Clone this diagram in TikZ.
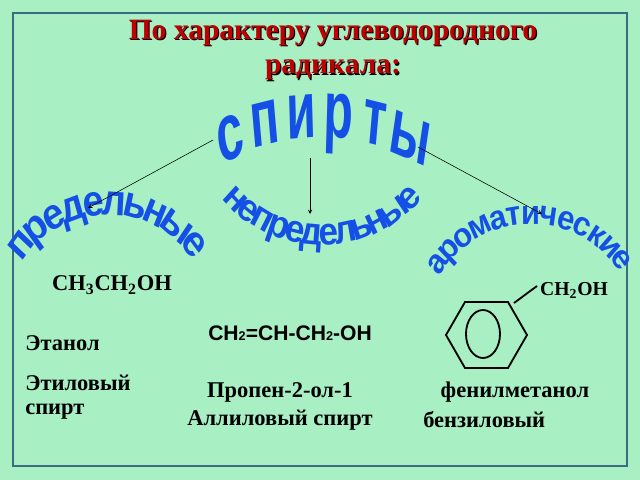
\documentclass[tikz,border=0pt]{standalone}
\usepackage{fontspec}
\setmainfont{Liberation Serif}
\newfontfamily\arialf{Liberation Sans}
\definecolor{bg}{HTML}{A8F0C4}
\definecolor{frm}{HTML}{3A6E7E}
\definecolor{ttl}{HTML}{C00000}
\definecolor{wa}{HTML}{1450E6}
\begin{document}
\begin{tikzpicture}[x=0.025cm,y=-0.025cm,
  txt/.style={font=\bfseries\fontsize{16}{18}\selectfont,inner sep=0pt},
  wal/.style={text=wa,inner sep=0pt,anchor=base},
  arr/.style={-stealth,thin}]
\fill[bg] (0,0) rectangle (640,480);
\useasboundingbox (0,0) rectangle (640,480);
\draw[frm,line width=1.2pt] (13,13) rectangle (627,466);
% title
\foreach \dx/\c in {1.2/black,0/ttl}{
\node[font=\bfseries\fontsize{21}{24}\selectfont,text=\c,inner sep=0pt] (t1\c) at (333+\dx,33+\dx) {По характеру углеводородного};
\node[font=\bfseries\fontsize{21}{24}\selectfont,text=\c,inner sep=0pt] (t2\c) at (333+\dx,70+\dx) {радикала:};}
% спирты
\foreach \l/\a [count=\i] in {с/118,п/106.8,и/95.6,р/84.4,т/73.2,ы/62}{
  \node[wal,font=\arialf\bfseries\fontsize{34}{34}\selectfont,yscale=1.7,rotate={(\a-90)*0.5}] (s\i) at ({320+185*cos(\a)},{322-185*sin(\a)}) {\l};}
% предельные
\gdef\acc{0}
\foreach \l/\w [count=\i] in {п/.61,р/.61,е/.56,д/.6,е/.56,л/.6,ь/.55,н/.61,ы/.8,е/.56}{
  \pgfmathsetmacro\a{146-(\acc+\w/2)*18.3}
  \node[wal,font=\arialf\bfseries\fontsize{27}{27}\selectfont,yscale=1.15,rotate=\a-90] (p\i) at ({108+103*cos(\a)},{318-103*sin(\a)}) {\l};
  \pgfmathsetmacro\tmp{\acc+\w}\xdef\acc{\tmp}}
% непредельные
\gdef\acc{0}
\foreach \l/\w [count=\i] in {н/.61,е/.56,п/.61,р/.61,е/.56,д/.6,е/.56,л/.6,ь/.55,н/.61,ы/.8,е/.56}{
  \pgfmathsetmacro\a{221+(\acc+\w/2)*13.6}
  \node[wal,font=\arialf\bfseries\fontsize{25}{25}\selectfont,yscale=1.1,rotate=\a+90] (n\i) at ({322+132*cos(\a)},{113-132*sin(\a)}) {\l};
  \pgfmathsetmacro\tmp{\acc+\w}\xdef\acc{\tmp}}
% ароматические
\gdef\acc{0}
\foreach \l/\w [count=\i] in {а/.56,р/.61,о/.61,м/.75,а/.56,т/.5,и/.61,ч/.61,е/.56,с/.56,к/.56,и/.61,е/.56}{
  \pgfmathsetmacro\a{149-(\acc+\w/2)*15.1}
  \node[wal,font=\arialf\bfseries\fontsize{22}{22}\selectfont,yscale=1.1,rotate=\a-90] (a\i) at ({531+106*cos(\a)},{330-106*sin(\a)}) {\l};
  \pgfmathsetmacro\tmp{\acc+\w}\xdef\acc{\tmp}}
% arrows
\coordinate (o1) at (213,140); \coordinate (e1) at (88,208);
\coordinate (o2) at (310,158); \coordinate (e2) at (310,214);
\coordinate (o3) at (418,147); \coordinate (e3) at (542,214);
\draw[arr] (o1) -- (e1);
\draw[arr] (o2) -- (e2);
\draw[arr] (o3) -- (e3);
% formulas and names
\node[txt] (f1) at (112,285) {CH$_{\mathbf 3}$CH$_{\mathbf 2}$OH};
\node[txt,font=\bfseries\fontsize{14}{16}\selectfont] (f3) at (574,290) {CH$_{\mathbf 2}$OH};
\node[txt,font=\arialf\bfseries\fontsize{15}{16}\selectfont] (f2) at (290,333) {CH{\fontsize{9}{9}\selectfont 2}=CH-CH{\fontsize{9}{9}\selectfont 2}-OH};
\node[txt,anchor=west] (e) at (25,343) {Этанол};
\node[txt,anchor=west] (ea) at (25,383) {Этиловый};
\node[txt,anchor=west] (eb) at (25,412) {спирт};
\node[txt] (pr) at (280,392) {Пропен-2-ол-1};
\node[txt] (al) at (280,420) {Аллиловый спирт};
\node[txt] (fm) at (515,392) {фенилметанол};
\node[txt,anchor=west] (bz) at (423,420) {бензиловый};
% benzene
\draw[line width=1.3pt] (465,302) -- (508,302) -- (527,335) -- (508,368) -- (465,368) -- (446,335) -- cycle;
\draw[line width=1.3pt] (483,334) ellipse [x radius=17, y radius=24];
\coordinate (b1) at (514,303); \coordinate (b2) at (537,286);
\draw[line width=1.3pt] (b1) -- (b2);
\end{tikzpicture}
\end{document}
